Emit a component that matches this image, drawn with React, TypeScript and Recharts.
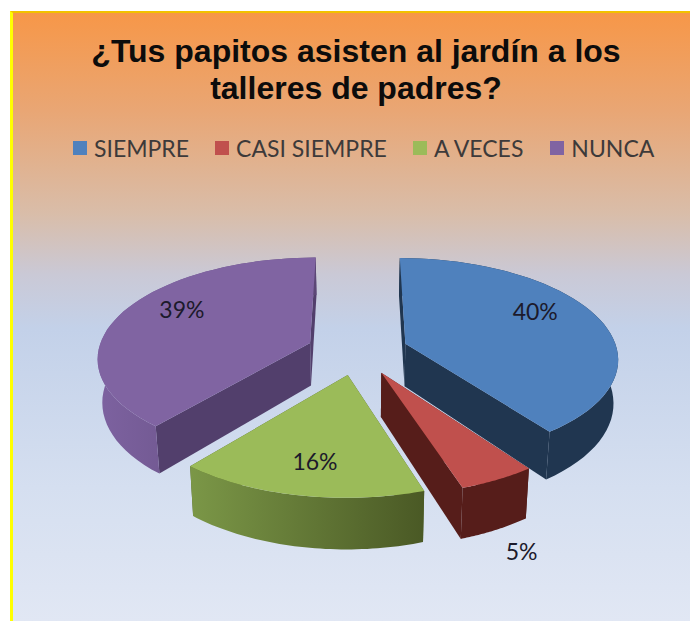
import React from 'react';
import { PieChart, Pie, Legend } from 'recharts';

const categories = ['SIEMPRE', 'CASI SIEMPRE', 'A VECES', 'NUNCA'];
const values = [40, 5, 16, 39];
const topColors = ['#4f81bd', '#c0504d', '#9bbb59', '#8064a2'];
const faceColors = ['#203650', '#561d1a', '#4f6028', '#523f6c'];
const rimFrom = ['#203650', '#561d1a', '#7b9747', '#7d62a0'];
const rimTo = ['#203650', '#561d1a', '#4a5925', '#5c4776'];
const titleLines = ['¿Tus papitos asisten al jardín a los', 'talleres de padres?'];

// Placement of each percentage: distance from the wedge apex (1 = rim) and clock angle.
const labelRadius = [0.75, 1.46, 0.745, 0.75];
const labelClock = [61.5, 160, 190, 299.5];

const EXPLODE = 0.24;
const PERSPECTIVE = 0.135;
const TILT = 99;
const DEPTH = 43;
const BOTTOM_SHRINK = 0.982;
const CX = 357.5;
const CY = 351;
const R = 212;

const rad = (d: number) => (d * Math.PI) / 180;

function project(cx: number, cy: number, r: number, X: number, Y: number, low = false) {
  const s = 1 / (1 - PERSPECTIVE * Y);
  const x = r * X * s;
  const y = TILT * Y * s;
  return low
    ? { x: cx + x * BOTTOM_SHRINK, y: cy + y + DEPTH * s }
    : { x: cx + x, y: cy + y };
}

function apexOf(mid: number) {
  return { X: Math.sin(rad(mid)) * EXPLODE, Y: -Math.cos(rad(mid)) * EXPLODE };
}

const path = (pts: { x: number; y: number }[]) =>
  pts.map((p, i) => `${i ? 'L' : 'M'}${p.x.toFixed(1)} ${p.y.toFixed(1)}`).join(' ') + ' Z';

function Wedge(props: any) {
  const { cx, cy, outerRadius, startAngle, endAngle, index } = props;
  const a0 = 90 - startAngle;
  const a1 = 90 - endAngle;
  const mid = (a0 + a1) / 2;
  const apex = apexOf(mid);
  const rimTop: { x: number; y: number }[] = [];
  const rimLow: { x: number; y: number }[] = [];
  const n = 48;
  for (let i = 0; i <= n; i++) {
    const t = rad(a0 + ((a1 - a0) * i) / n);
    const X = apex.X + Math.sin(t);
    const Y = apex.Y - Math.cos(t);
    rimTop.push(project(cx, cy, outerRadius, X, Y));
    rimLow.push(project(cx, cy, outerRadius, X, Y, true));
  }
  const aTop = project(cx, cy, outerRadius, apex.X, apex.Y);
  const aLow = project(cx, cy, outerRadius, apex.X, apex.Y, true);
  const gid = `rim-${index}`;
  return (
    <g>
      <defs>
        <linearGradient id={gid} gradientUnits="userSpaceOnUse" x1={Math.min(...rimTop.map((p) => p.x))} x2={Math.max(...rimTop.map((p) => p.x))} y1={0} y2={0}>
          <stop offset="0" stopColor={rimFrom[index]} />
          <stop offset="1" stopColor={rimTo[index]} />
        </linearGradient>
      </defs>
      <path d={path([aTop, rimTop[0], rimLow[0], aLow])} fill={faceColors[index]} />
      <path d={path([aTop, rimTop[n], rimLow[n], aLow])} fill={faceColors[index]} />
      <path d={path([...rimTop, ...[...rimLow].reverse()])} fill={`url(#${gid})`} />
      <path d={path([aTop, ...rimTop])} fill={topColors[index]} />
    </g>
  );
}

function PercentLabel(props: any) {
  const { cx, cy, outerRadius, index, percent, startAngle, endAngle } = props;
  const mid = 90 - (startAngle + endAngle) / 2;
  const apex = apexOf(mid);
  const t = rad(labelClock[index]);
  const p = project(
    cx,
    cy,
    outerRadius,
    apex.X + Math.sin(t) * labelRadius[index],
    apex.Y - Math.cos(t) * labelRadius[index]
  );
  return (
    <text x={p.x} y={p.y} textAnchor="middle" dominantBaseline="central" fontFamily="Lato, 'Open Sans', sans-serif" fontSize={23} fill="#1c1a2b">
      {`${Math.round(percent * 100)}%`}
    </text>
  );
}

function LegendRow() {
  const gaps = [26, 26, 27, 0];
  return (
    <div style={{ display: 'flex', alignItems: 'center', fontFamily: 'Lato, sans-serif', fontSize: 23, color: '#3d3a3a', whiteSpace: 'nowrap', lineHeight: '26px' }}>
      {categories.map((c, i) => (
        <span key={c} style={{ display: 'flex', alignItems: 'center', marginRight: gaps[i] }}>
          <span style={{ width: 14, height: 14, background: topColors[i], marginRight: 7, display: 'inline-block' }} />
          {c}
        </span>
      ))}
    </div>
  );
}

const chartData = categories.map((name, i) => ({ name, value: values[i] }));

export default function App() {
  return (
    <div style={{ position: 'absolute', left: 0, top: 0, width: 690, height: 621, background: '#fff', overflow: 'hidden' }}>
      <div
        style={{
          position: 'absolute',
          left: 10,
          top: 11,
          width: 680,
          height: 610,
          boxSizing: 'border-box',
          borderLeft: '3px solid #ffff00',
          borderTop: '2px solid #f2c200',
          background:
            'linear-gradient(180deg, #f79748 0%, #e9a674 16%, #d9bda9 33%, #cac9d6 43%, #c3d1e9 52%, #d5dff0 78%, #e1e7f4 100%)',
        }}
      />
      <div
        style={{
          position: 'absolute',
          left: 10,
          width: 692,
          top: 33,
          textAlign: 'center',
          fontFamily: "'Liberation Sans', Arial, sans-serif",
          fontWeight: 700,
          fontSize: 32,
          lineHeight: '37px',
          color: '#0c0c0c',
        }}
      >
        {titleLines.map((l) => (
          <div key={l}>{l}</div>
        ))}
      </div>
      <div style={{ position: 'absolute', left: 0, top: 0 }}>
        <PieChart width={690} height={621} margin={{ top: 0, right: 0, bottom: 0, left: 0 }}>
          <Legend content={<LegendRow />} wrapperStyle={{ position: 'absolute', left: 73, top: 135, width: 'auto' }} />
          <Pie
            data={chartData}
            dataKey="value"
            nameKey="name"
            cx={CX}
            cy={CY}
            outerRadius={R}
            startAngle={90}
            endAngle={-270}
            stroke="none"
            paddingAngle={0}
            shape={Wedge}
            label={PercentLabel}
            labelLine={false}
            isAnimationActive={false}
          />
        </PieChart>
      </div>
    </div>
  );
}
